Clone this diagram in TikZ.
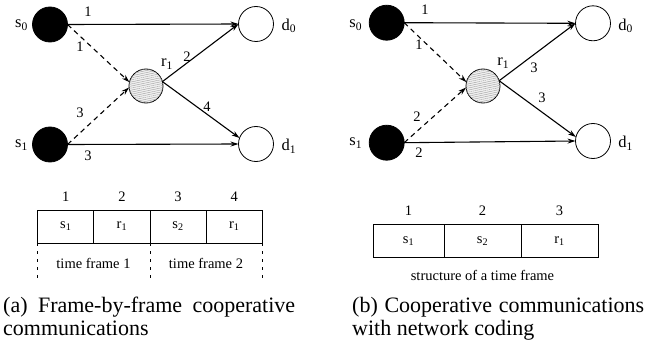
\documentclass[tikz,border=0pt]{standalone}
\usepackage{fontspec}
\setmainfont{Liberation Serif}
\usetikzlibrary{arrows.meta,patterns.meta}
\begin{document}
\begin{tikzpicture}[x=1pt,y=-1pt,
 src/.style={circle,draw,line width=0.8pt,fill=black,minimum size=35pt,inner sep=0,outer sep=0},
 dst/.style={circle,draw,line width=0.8pt,fill=white,minimum size=35pt,inner sep=0,outer sep=0},
 rly/.style={circle,draw,line width=0.8pt,fill=gray!12,minimum size=34pt,inner sep=0,outer sep=0,
   postaction={pattern={Lines[angle=12,distance=2pt,line width=0.4pt]},pattern color=gray!75}},
 lbl/.style={font=\fontsize{14.5}{16}\selectfont,inner sep=0},
 nlbl/.style={font=\fontsize{16.5}{18}\selectfont,inner sep=0},
 arr/.style={-{Stealth[length=8pt,width=5pt]},line width=1.1pt},
 darr/.style={arr,dash pattern=on 5pt off 4pt},
 cell/.style={draw,line width=1pt,minimum height=33pt,inner sep=0,outer sep=0,font=\fontsize{14.5}{16}\selectfont},
 captxt/.style={font=\fontsize{22}{23}\selectfont,inner sep=0,anchor=base west},
 tick/.style={dash pattern=on 3pt off 5pt,line width=1pt}
]
\useasboundingbox (0,0) rectangle (649,345);

% ---------------- panel (a) graph ----------------
\node[src] (s0a) at (50,24.5) {};
\node[src] (s1a) at (50,144.5) {};
\node[rly] (r1a) at (146,86) {};
\node[dst] (d0a) at (256,24) {};
\node[dst] (d1a) at (256,144) {};
\node[nlbl] (ls0a) at (21.5,25) {s\textsubscript{0}};
\node[nlbl] (ls1a) at (21.5,145) {s\textsubscript{1}};
\node[nlbl] (lr1a) at (167,64) {r\textsubscript{1}};
\node[nlbl] (ld0a) at (289,26) {d\textsubscript{0}};
\node[nlbl] (ld1a) at (289,146) {d\textsubscript{1}};
\draw[arr] (s0a.east) -- (d0a.west);
\draw[arr] (s1a.east) -- (d1a.west);
\draw[darr] (s0a.east) -- (r1a.167);
\draw[darr] (s1a.east) -- (r1a.185);
\draw[arr] (r1a.15) -- (d0a.west);
\draw[arr] (r1a.15) -- (d1a.160);
\node[lbl] (ea1) at (88,12) {1};
\node[lbl] (ea2) at (80,47) {1};
\node[lbl] (ea3) at (80,113) {3};
\node[lbl] (ea4) at (88,156) {3};
\node[lbl] (ea5) at (187,57) {2};
\node[lbl] (ea6) at (207,107) {4};

% ---------------- panel (a) frame ----------------
\node[cell,minimum width=56.15pt] (ca1) at (65.775,226.5) {s\textsubscript{1}};
\node[cell,minimum width=56.15pt] (ca2) at (121.925,226.5) {r\textsubscript{1}};
\node[cell,minimum width=56.15pt] (ca3) at (178.075,226.5) {s\textsubscript{2}};
\node[cell,minimum width=56.15pt] (ca4) at (234.225,226.5) {r\textsubscript{1}};
\node[lbl] (na1) at (65.8,197) {1};
\node[lbl] (na2) at (121.9,197) {2};
\node[lbl] (na3) at (178.1,197) {3};
\node[lbl] (na4) at (234.2,197) {4};
\coordinate (ta1) at (37.7,279);
\coordinate (ta2) at (150,279);
\coordinate (ta3) at (262.3,279);
\draw[tick] (ca1.south west) -- (ta1);
\draw[tick] (ca3.south west) -- (ta2);
\draw[tick] (ca4.south east) -- (ta3);
\node[lbl] (tf1) at (93.5,263) {time frame 1};
\node[lbl] (tf2) at (206,263) {time frame 2};

\node[captxt] (capa1) at (3,312) {\makebox[292pt][s]{(a) Frame-by-frame cooperative}};
\node[captxt] (capa2) at (3,335) {communications};

% ---------------- panel (b) graph ----------------
\node[src] (s0b) at (386.7,22.7) {};
\node[src] (s1b) at (386.7,142.7) {};
\node[rly] (r1b) at (483,86) {};
\node[dst] (d0b) at (593,23.3) {};
\node[dst] (d1b) at (593,141) {};
\node[nlbl] (ls0b) at (355.7,25) {s\textsubscript{0}};
\node[nlbl] (ls1b) at (355.7,143) {s\textsubscript{1}};
\node[nlbl] (lr1b) at (503.3,63.3) {r\textsubscript{1}};
\node[nlbl] (ld0b) at (625.7,26) {d\textsubscript{0}};
\node[nlbl] (ld1b) at (625.7,143) {d\textsubscript{1}};
\draw[arr] (s0b.east) -- (d0b.west);
\draw[arr] (s1b.east) -- (d1b.west);
\draw[darr] (s0b.east) -- (r1b.167);
\draw[darr] (s1b.east) -- (r1b.185);
\draw[arr] (r1b.18) -- (d0b.west);
\draw[arr] (r1b.18) -- (d1b.167);
\node[lbl] (eb1) at (425,10) {1};
\node[lbl] (eb2) at (419,45) {1};
\node[lbl] (eb3) at (417,117) {2};
\node[lbl] (eb4) at (419,153) {2};
\node[lbl] (eb5) at (534,68) {3};
\node[lbl] (eb6) at (542,98) {3};

% ---------------- panel (b) frame ----------------
\node[cell,minimum width=71pt] (cb1) at (408.5,241.3) {s\textsubscript{1}};
\node[cell,minimum width=77pt] (cb2) at (482.5,241.3) {s\textsubscript{2}};
\node[cell,minimum width=77pt] (cb3) at (559.5,241.3) {r\textsubscript{1}};
\node[lbl] (nb1) at (408.5,211) {1};
\node[lbl] (nb2) at (482.5,211) {2};
\node[lbl] (nb3) at (559.5,211) {3};
\node[lbl] (stf) at (482.5,275) {structure of a time frame};

\node[captxt] (capb1) at (352,312) {\makebox[292pt][s]{(b) Cooperative communications}};
\node[captxt] (capb2) at (352,335) {with network coding};
\end{tikzpicture}
\end{document}
